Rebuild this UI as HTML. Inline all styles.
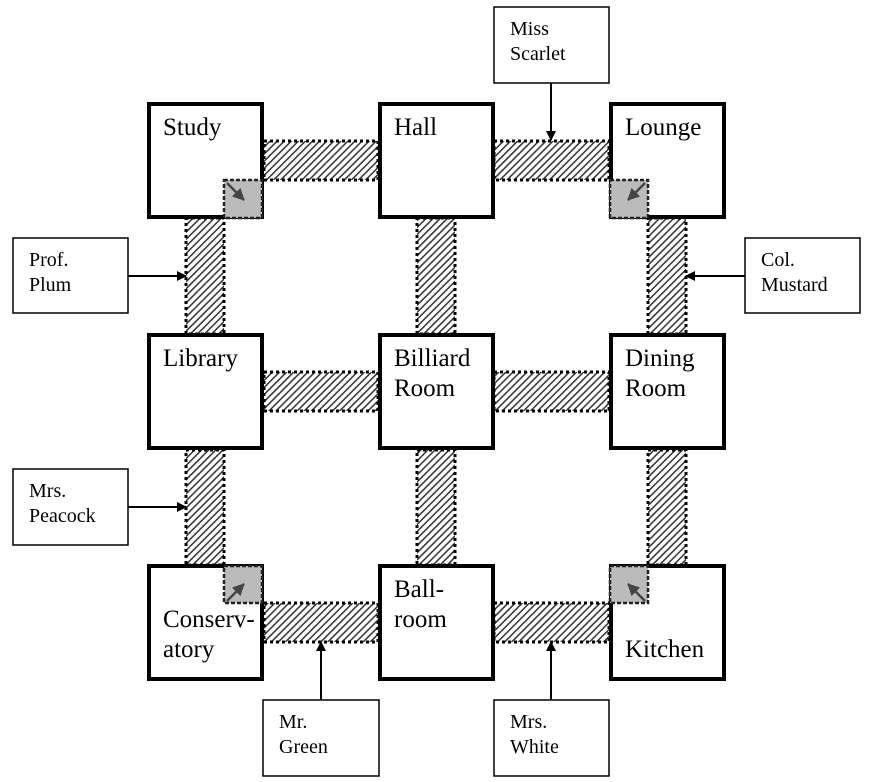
<!DOCTYPE html>
<html><head><meta charset="utf-8"><style>
html,body{margin:0;padding:0;background:#fff;}
svg{display:block;}
text{font-family:"Liberation Serif",serif;fill:#000;}
.r{font-size:25px;}
.l{font-size:20px;}
</style></head><body>
<svg width="874" height="782" viewBox="0 0 874 782" xmlns="http://www.w3.org/2000/svg">
<defs>
<pattern id="h" patternUnits="userSpaceOnUse" width="5" height="5" patternTransform="rotate(45)">
<rect width="5" height="5" fill="#fff"/><rect width="1.5" height="5" fill="#333"/>
</pattern>
<marker id="a" markerWidth="10" markerHeight="10" refX="9" refY="5" orient="auto" markerUnits="userSpaceOnUse">
<path d="M0,0 L10,5 L0,10 z" fill="#000"/></marker>
<marker id="g" markerWidth="12" markerHeight="12" refX="11" refY="6" orient="auto" markerUnits="userSpaceOnUse">
<path d="M0,0 L12,6 L0,12 z" fill="#444"/></marker>
</defs>
<g stroke="#000" stroke-width="3" stroke-dasharray="3,3" fill="url(#h)">
<rect x="264" y="141" width="114" height="39"/>
<rect x="494" y="141" width="115" height="39"/>
<rect x="264" y="372" width="114" height="39"/>
<rect x="494" y="372" width="115" height="39"/>
<rect x="264" y="603" width="114" height="39"/>
<rect x="494" y="603" width="115" height="39"/>
<rect x="186" y="218" width="38" height="116"/>
<rect x="417" y="218" width="38" height="116"/>
<rect x="648" y="218" width="38" height="116"/>
<rect x="186" y="450" width="38" height="115"/>
<rect x="417" y="450" width="38" height="115"/>
<rect x="648" y="450" width="38" height="115"/>
</g>
<g fill="#fff" stroke="#000" stroke-width="4">
<rect x="149" y="104" width="113" height="113"/>
<rect x="380" y="104" width="113" height="113"/>
<rect x="611" y="104" width="113" height="113"/>
<rect x="149" y="335" width="113" height="113"/>
<rect x="380" y="335" width="113" height="113"/>
<rect x="611" y="335" width="113" height="113"/>
<rect x="149" y="566" width="113" height="113"/>
<rect x="380" y="566" width="113" height="113"/>
<rect x="611" y="566" width="113" height="113"/>
</g>
<g fill="#bbb" stroke="#222" stroke-width="2.5" stroke-dasharray="4,2">
<rect x="224" y="180" width="38" height="38"/>
<rect x="610" y="180" width="38" height="38"/>
<rect x="224" y="566" width="38" height="37"/>
<rect x="610" y="566" width="38" height="37"/>
</g>
<g stroke="#444" stroke-width="2.5">
<line x1="227" y1="183" x2="244" y2="200" marker-end="url(#g)"/>
<line x1="645" y1="183" x2="628" y2="200" marker-end="url(#g)"/>
<line x1="227" y1="601" x2="244" y2="584" marker-end="url(#g)"/>
<line x1="645" y1="601" x2="628" y2="584" marker-end="url(#g)"/>
</g>
<g class="r">
<text x="163" y="135">Study</text>
<text x="394" y="135">Hall</text>
<text x="625" y="135">Lounge</text>
<text x="163" y="366">Library</text>
<text x="394" y="366">Billiard</text><text x="394" y="396">Room</text>
<text x="625" y="366">Dining</text><text x="625" y="396">Room</text>
<text x="163" y="627">Conserv-</text><text x="163" y="657">atory</text>
<text x="394" y="597">Ball-</text><text x="394" y="627">room</text>
<text x="625" y="657">Kitchen</text>
</g>
<g fill="#fff" stroke="#000" stroke-width="1.5">
<rect x="494" y="7" width="115" height="76"/>
<rect x="13" y="238" width="115" height="75"/>
<rect x="745" y="238" width="115" height="75"/>
<rect x="13" y="469" width="115" height="76"/>
<rect x="263" y="700" width="116" height="76"/>
<rect x="494" y="700" width="115" height="76"/>
</g>
<g stroke="#000" stroke-width="2">
<line x1="551" y1="83" x2="551" y2="140" marker-end="url(#a)"/>
<line x1="128" y1="276" x2="186" y2="276" marker-end="url(#a)"/>
<line x1="745" y1="276" x2="686" y2="276" marker-end="url(#a)"/>
<line x1="128" y1="507" x2="186" y2="507" marker-end="url(#a)"/>
<line x1="321" y1="700" x2="321" y2="642" marker-end="url(#a)"/>
<line x1="551" y1="700" x2="551" y2="642" marker-end="url(#a)"/>
</g>
<g class="l">
<text x="510" y="35">Miss</text><text x="510" y="60">Scarlet</text>
<text x="29" y="266">Prof.</text><text x="29" y="291">Plum</text>
<text x="761" y="266">Col.</text><text x="761" y="291">Mustard</text>
<text x="29" y="497">Mrs.</text><text x="29" y="522">Peacock</text>
<text x="279" y="728">Mr.</text><text x="279" y="753">Green</text>
<text x="510" y="728">Mrs.</text><text x="510" y="753">White</text>
</g>
</svg>
</body></html>
